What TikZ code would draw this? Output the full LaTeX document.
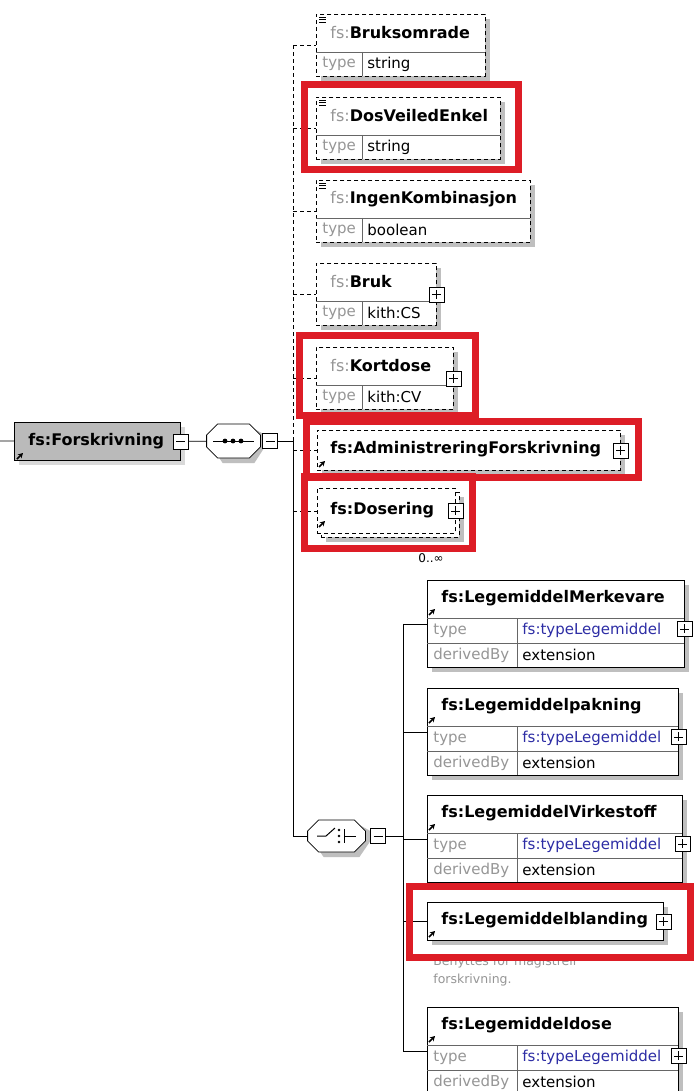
\documentclass[tikz,border=0pt]{standalone}
\usepackage{fontspec}
\setmainfont{DejaVu Sans}
\usepackage{xcolor}
\usetikzlibrary{shadows,arrows.meta}

\definecolor{lblgray}{RGB}{150,150,150}
\definecolor{typeblue}{RGB}{45,45,165}
\definecolor{hired}{RGB}{221,29,38}

\begin{document}
\begin{tikzpicture}[
    x=1pt, y=-1pt, line width=0.8pt,
    box/.style={rectangle, draw, fill=white, line width=0.8pt, anchor=north west, inner sep=0pt},
    shadowed/.style={drop shadow={shadow xshift=5pt, shadow yshift=-5pt, fill=black!25, opacity=1}},
    elem/.style={box, shadowed},
    optelem/.style={elem, dash pattern=on 4pt off 3pt},
    rootelem/.style={box, fill=black!27, drop shadow={shadow xshift=5pt, shadow yshift=-5pt, fill=black!15, opacity=1}},
    compositor/.style={rectangle, inner sep=0pt},
    octa/.style={draw, fill=white, line width=0.8pt},
    pmbase/.style={rectangle, draw, fill=white, line width=0.8pt, minimum size=15pt, inner sep=0pt},
    minusbox/.style={pmbase, path picture={\draw[line width=0.8pt] ([xshift=3pt]path picture bounding box.west) -- ([xshift=-3pt]path picture bounding box.east);}},
    plusbox/.style={pmbase, path picture={\draw[line width=0.8pt] ([xshift=3pt]path picture bounding box.west) -- ([xshift=-3pt]path picture bounding box.east) ([yshift=-3pt]path picture bounding box.north) -- ([yshift=3pt]path picture bounding box.south);}},
    nm/.style={anchor=west, inner sep=0pt, font=\fontsize{16}{19}\selectfont\bfseries},
    rw/.style={anchor=west, inner sep=0pt, font=\fontsize{15}{18}\selectfont},
    lbl/.style={rw, text=lblgray},
    sep/.style={line width=0.6pt, draw=black!60},
    optline/.style={dash pattern=on 4pt off 3pt},
    hilite/.style={draw=hired, line width=7pt},
    refarrow/.style={line width=1.7pt, -{Stealth[length=5pt, width=5.5pt]}}
]
\useasboundingbox (0,0) rectangle (693,1091);
\fill[white] (0,0) rectangle (693,1091);

% root element and sequence
\node[rootelem, minimum width=166, minimum height=38] (root) at (14,422) {};
\node[nm] (rootname) at (28,441) {fs:Forskrivning};
\draw[refarrow] (17,459) -- ++(6,-6);
\node[minusbox] (rootminus) at (root.east) {};
\coordinate (lead) at (0,441);
\draw (lead) -- (root);

\node[compositor, minimum width=53, minimum height=34] (seq) at (233.5,441) {};
\fill[black!25] ([shift={(5,5)}]seq.west) -- ([shift={(5,-6)}]seq.west) -- ([shift={(16,-12)}]seq.west)
    -- ([shift={(-6,-12)}]seq.east) -- ([shift={(5,-6)}]seq.east) -- ([shift={(5,5)}]seq.east)
    -- ([shift={(-6,22)}]seq.east) -- ([shift={(16,22)}]seq.west) -- cycle;
\draw[octa] ([shift={(0,-6)}]seq.west) -- ([shift={(11,-17)}]seq.west) -- ([shift={(-11,-17)}]seq.east)
    -- ([shift={(0,-6)}]seq.east) -- ([shift={(0,6)}]seq.east) -- ([shift={(-11,17)}]seq.east)
    -- ([shift={(11,17)}]seq.west) -- ([shift={(0,6)}]seq.west) -- cycle;
\draw (213,441) -- (254,441);
\foreach \x in {225,233,241}
    \fill (\x,441) circle (2.4);
\node[minusbox] (seqminus) at (270,441) {};
\draw (rootminus) -- (seq);
\coordinate (trunk) at (293,441);
\draw (seqminus) -- (trunk);

% optional simple elements
\foreach \n/\y/\w/\ename/\etype in {bruks/14/169/Bruksomrade/string, dosveil/97/184/DosVeiledEnkel/string,
        ingen/180/214/IngenKombinasjon/boolean, bruk/263/120/Bruk/kith:CS, kort/347/137/Kortdose/kith:CV} {
    \node[optelem, minimum width=\w, minimum height=62] (\n) at (316,\y) {};
    \draw[sep] (316,\y+38) -- (316+\w,\y+38);
    \draw[sep] (362,\y+38) -- (362,\y+62);
    \node[nm] (\n name) at (330,\y+19) {{\mdseries\color{lblgray}fs:}\ename};
    \node[lbl] (\n tl) at (322,\y+50) {type};
    \node[rw] (\n tv) at (367,\y+50) {\etype};
}
\foreach \n in {bruks,dosveil,ingen}
    \foreach \d in {3,5.5,8}
        \draw[line width=0.6pt] ([shift={(3,\d)}]\n.north west) -- ++(7,0);

\node[optelem, minimum width=303, minimum height=40] (admin) at (317,430) {};
\node[nm] (admin name) at (330,449) {fs:AdministreringForskrivning};
\draw[refarrow] (319,467) -- ++(6,-6);

\node[optelem, minimum width=138, minimum height=45] (dosback) at (321,492) {};
\node[box, dash pattern=on 4pt off 3pt, minimum width=138, minimum height=45] (doser) at (317,488) {};
\node[nm] (doser name) at (330,510) {fs:Dosering};
\draw[refarrow] (319,527) -- ++(6,-6);
\node[rw, font=\fontsize{12}{14}\selectfont] (occurs) at (418,558) {0..∞};

\foreach \n in {bruk,kort,admin,doser}
    \node[plusbox] (\n plus) at (\n.east) {};

\draw[optline] (trunk |- bruks.west) -- (trunk);
\foreach \n in {bruks,dosveil,ingen,bruk,kort,admin,doser}
    \draw[optline] (trunk |- \n.west) -- (\n.west);

% choice
\node[compositor, minimum width=57, minimum height=32] (choice) at (336.5,836) {};
\fill[black!25] ([shift={(5,5)}]choice.west) -- ([shift={(5,-5)}]choice.west) -- ([shift={(16,-11)}]choice.west)
    -- ([shift={(-6,-11)}]choice.east) -- ([shift={(5,-5)}]choice.east) -- ([shift={(5,5)}]choice.east)
    -- ([shift={(-6,21)}]choice.east) -- ([shift={(16,21)}]choice.west) -- cycle;
\draw[octa] ([shift={(0,-5)}]choice.west) -- ([shift={(11,-16)}]choice.west) -- ([shift={(-11,-16)}]choice.east)
    -- ([shift={(0,-5)}]choice.east) -- ([shift={(0,5)}]choice.east) -- ([shift={(-11,16)}]choice.east)
    -- ([shift={(11,16)}]choice.west) -- ([shift={(0,5)}]choice.west) -- cycle;
\draw[line width=1pt] (317,836) -- (326,836) -- (335,828);
\foreach \yy in {830,836,842}
    \fill (339,\yy) circle (1.4);
\draw[line width=1pt] (344,829) -- (344,843) (344,836) -- (356,836);
\node[minusbox] (choiceminus) at (378,836) {};
\draw (trunk) -- (trunk |- choice.west) -- (choice.west);
\coordinate (trunkb) at (403,836);
\draw (choiceminus) -- (trunkb);

\foreach \n/\y/\w/\ename in {merk/580/257/LegemiddelMerkevare, pakn/688/251/Legemiddelpakning,
        virk/795/255/LegemiddelVirkestoff, dose/1007/251/Legemiddeldose} {
    \node[elem, minimum width=\w, minimum height=87] (\n) at (427,\y) {};
    \draw[sep] (427,\y+38) -- (427+\w,\y+38);
    \draw[sep] (427,\y+63) -- (427+\w,\y+63);
    \draw[sep] (517,\y+38) -- (517,\y+87);
    \node[nm] (\n name) at (441,\y+18) {fs:\ename};
    \draw[refarrow] (429,\y+35) -- ++(6,-6);
    \node[lbl] (\n tl) at (433,\y+50.5) {type};
    \node[rw, text=typeblue] (\n tv) at (522,\y+50.5) {fs:typeLegemiddel};
    \node[lbl] (\n dl) at (433,\y+75) {derivedBy};
    \node[rw] (\n dv) at (522,\y+75) {extension};
    \node[plusbox] (\n plus) at ([yshift=-5pt]\n.east) {};
}

\node[elem, minimum width=236, minimum height=38] (bland) at (427,902) {};
\node[nm] (bland name) at (441,920) {fs:Legemiddelblanding};
\draw[refarrow] (429,937) -- ++(6,-6);
\node[plusbox] (bland plus) at (bland.east) {};
\node[lbl, font=\fontsize{12.5}{18}\selectfont, align=left, anchor=north west] (blanddoc) at (433,956) {Benyttes for magistrell\\forskrivning.};

\draw (trunkb |- merk.west) -- (trunkb |- dose.west);
\foreach \n in {merk,pakn,virk,bland,dose}
    \draw (trunkb |- \n.west) -- (\n.west);

% highlights
\draw[hilite] (304,85) rectangle (518,170);
\draw[hilite] (299,335) rectangle (475.5,415);
\draw[hilite] (306,421) rectangle (638,477);
\draw[hilite] (304,476) rectangle (472,548);
\draw[hilite] (409,886) rectangle (690,957);

\end{tikzpicture}
\end{document}
